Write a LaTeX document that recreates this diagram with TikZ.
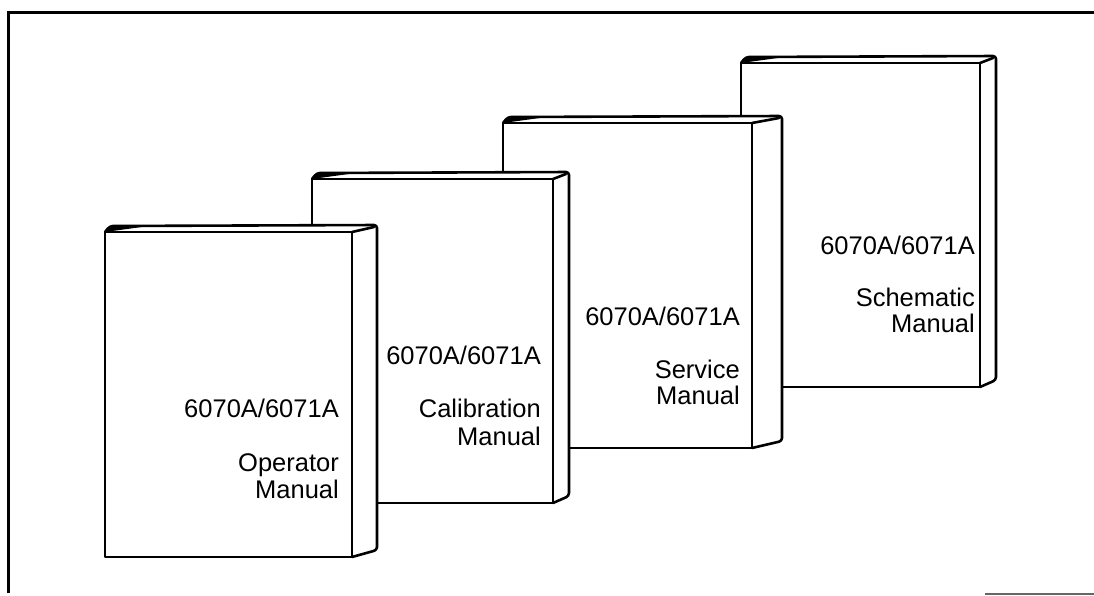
\documentclass[tikz,border=0pt]{standalone}
\usepackage{fontspec}
\setmainfont{Liberation Sans}
\begin{document}
\begin{tikzpicture}[x=1pt,y=-1pt,
    edge/.style={line width=2.6pt, line join=round, line cap=round},
    booktext/.style={font=\fontsize{25.5}{28}\selectfont, inner sep=0pt, anchor=base east}]
  \useasboundingbox (0,0) rectangle (1094,595);
  % Frame
  \draw[line width=3pt] (8,593) -- (8,12) -- (1094,12);
  \draw[line width=1.5pt, black!60] (985,594) -- (1094,594);
  % Books, drawn from the back to the front
  \foreach \n/\x/\t/\w/\b/\s/\rx/\nb/\ta/\tb/\la/\lb in {
      schematic/741/63/239/387/16/975/254/306/332/Schematic/Manual,
      service/503/123/249/448/30/740/325/378/404/Service/Manual,
      calibration/312/179/241/503/16/541/364/417/445/Calibration/Manual,
      operator/105/232/247/557/25/339/417/471/498/Operator/Manual} {
    % cover and spine
    \fill[white] (\x,\t) -- (\x+5,\t-6) -- (\x+\w+\s,\t-7) -- (\x+\w+\s,\b-7)
      -- (\x+\w,\b) -- (\x,\b) -- cycle;
    \draw[edge] (\x,\t) -- (\x+\w,\t) -- (\x+\w,\b) -- (\x,\b) -- cycle;
    \draw[edge, rounded corners=3pt] (\x,\t) -- (\x+5,\t-6) -- (\x+\w+\s,\t-7)
      -- (\x+\w+\s,\b-7) -- (\x+\w,\b);
    \draw[edge] (\x+\w,\t) -- (\x+\w+\s-3,\t-5);
    \fill (\x,\t) -- (\x+5,\t-6) -- (\x+48,\t-6.5) -- (\x+22,\t-3) -- cycle;
    % title
    \node[booktext] (\n-num) at (\rx,\nb) {6070A/6071A};
    \node[booktext] (\n-name) at (\rx,\ta) {\la};
    \node[booktext] (\n-kind) at (\rx,\tb) {\lb};
  }
\end{tikzpicture}
\end{document}
